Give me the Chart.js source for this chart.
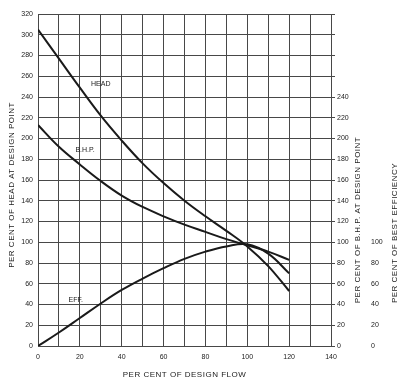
<!DOCTYPE html>
<html>
<head>
<meta charset="utf-8">
<script src="https://cdn.jsdelivr.net/npm/chart.js@4.4.1/dist/chart.umd.min.js"></script>
<style>
html, body { margin: 0; padding: 0; background: #fff; }
canvas { display: block; }
</style>
</head>
<body>
<canvas id="pumpChart" width="410" height="384"></canvas>
<script>
// per cent of design flow
const flowValues = [0, 10, 20, 30, 40, 50, 60, 70, 80, 90, 100, 110, 120];
// per cent of head / b.h.p. / best efficiency
const headValues = [305, 277, 249, 222, 198, 176, 157, 140, 125, 111, 96, 77, 53];
const bhpValues  = [213, 192, 175, 159, 145, 134, 125, 117, 110, 103, 97, 91, 83];
const effValues  = [0, 13, 27, 41, 54, 65, 75, 84, 91, 96, 98, 89, 70];

const curveLabels = [
    { text: 'HEAD', x: 30, y: 252 },
    { text: 'B.H.P.', x: 22.5, y: 189 },
    { text: 'EFF.', x: 18, y: 44 }
];

const INK = '#1a1a1a';
const GRID = '#484848';
const FONT = '"Liberation Sans", Arial, sans-serif';

const toPoints = vals => vals.map((v, i) => ({ x: flowValues[i], y: v }));

const lineStyle = {
    borderColor: INK,
    borderWidth: 2,
    pointRadius: 0,
    fill: false,
    tension: 0.4
};

// axis titles + curve names, drawn by hand (right titles read bottom to top)
const textPlugin = {
    id: 'textPlugin',
    afterDraw(chart) {
        const ctx = chart.ctx;
        const xs = chart.scales.x, ys = chart.scales.y;
        ctx.save();
        ctx.fillStyle = INK;
        ctx.textAlign = 'center';
        ctx.textBaseline = 'middle';

        ctx.font = '7px ' + FONT;
        curveLabels.forEach(l => {
            ctx.fillText(l.text, xs.getPixelForValue(l.x), ys.getPixelForValue(l.y));
        });

        ctx.font = '8px ' + FONT;
        ctx.letterSpacing = '0.5px';
        ctx.fillText('PER CENT OF DESIGN FLOW', (chart.chartArea.left + chart.chartArea.right) / 2, 375);

        const vTitle = (txt, x, y) => {
            ctx.save();
            ctx.translate(x, y);
            ctx.rotate(-Math.PI / 2);
            ctx.fillText(txt, 0, 0);
            ctx.restore();
        };
        vTitle('PER CENT OF HEAD AT DESIGN POINT', 12, 185);
        vTitle('PER CENT OF B.H.P. AT DESIGN POINT', 358, 220);
        vTitle('PER CENT OF BEST EFFICIENCY', 395, 233);
        ctx.restore();
    }
};

const ctx = document.getElementById('pumpChart').getContext('2d');
const pumpChart = new Chart(ctx, {
    type: 'line',
    data: {
        datasets: [
            { label: 'HEAD', data: toPoints(headValues), ...lineStyle },
            { label: 'B.H.P.', data: toPoints(bhpValues), ...lineStyle },
            { label: 'EFF.', data: toPoints(effValues), ...lineStyle }
        ]
    },
    options: {
        responsive: false,
        animation: false,
        devicePixelRatio: 1,
        layout: { padding: { top: 14, left: 0, right: 0, bottom: 0 } },
        plugins: { legend: { display: false }, tooltip: { enabled: false } },
        scales: {
            x: {
                type: 'linear',
                min: 0, max: 140,
                ticks: {
                    stepSize: 10,
                    autoSkip: false,
                    maxRotation: 0,
                    padding: 7,
                    color: INK,
                    font: { size: 7, family: FONT },
                    callback: v => (v % 20 === 0 ? v : '')
                },
                grid: { color: GRID, lineWidth: 1, drawTicks: false },
                border: { color: GRID },
                afterFit: s => { s.height = 38; }
            },
            y: {
                position: 'left',
                min: 0, max: 320,
                ticks: {
                    stepSize: 20,
                    padding: 5,
                    color: INK,
                    font: { size: 7, family: FONT }
                },
                grid: { color: GRID, lineWidth: 1, drawTicks: false },
                border: { color: GRID },
                afterFit: s => { s.width = 38; }
            },
            yBhp: {
                position: 'right',
                min: 0, max: 320,
                ticks: {
                    stepSize: 20,
                    padding: 2,
                    color: INK,
                    font: { size: 7, family: FONT },
                    callback: v => (v <= 240 ? v : '')
                },
                grid: { drawOnChartArea: false, color: GRID, tickLength: 4 },
                border: { color: GRID },
                afterFit: s => { s.width = 35; }
            },
            yEff: {
                position: 'right',
                min: 0, max: 320,
                ticks: {
                    stepSize: 20,
                    padding: 5,
                    color: INK,
                    font: { size: 7, family: FONT },
                    callback: v => (v <= 100 ? v : '')
                },
                grid: { display: false, drawTicks: false },
                border: { display: false },
                afterFit: s => { s.width = 44; }
            }
        }
    },
    plugins: [textPlugin]
});
</script>
</body>
</html>
